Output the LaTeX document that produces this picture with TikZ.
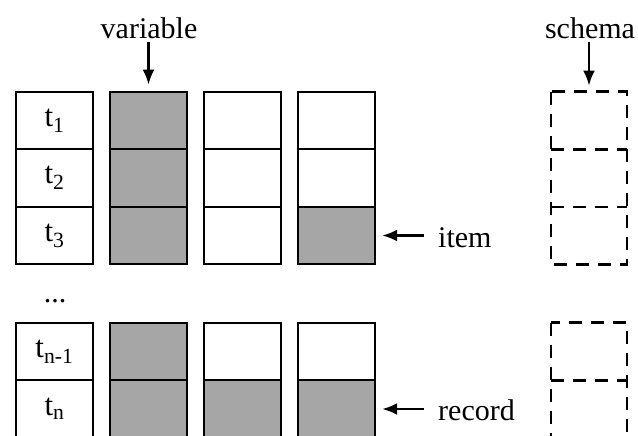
\documentclass[tikz,border=0pt]{standalone}
\usepackage{fontspec}
\setmainfont{Liberation Serif}
\usetikzlibrary{arrows.meta}
\begin{document}
\begin{tikzpicture}[x=1pt,y=-1pt,
  cell/.style={draw,line width=2.3pt,minimum width=77pt,minimum height=57.5pt,inner sep=0pt,font=\fontsize{31}{36}\selectfont},
  shaded/.style={cell,fill=gray!70},
  slot/.style={minimum width=76pt,minimum height=57.5pt,inner sep=0pt},
  dashline/.style={line width=2.3pt,dash pattern=on 13pt off 9pt},
  lbl/.style={font=\fontsize{30}{35}\selectfont,inner sep=2pt},
  arr/.style={-{Latex[length=15pt,width=12pt]},line width=2.3pt}]
\useasboundingbox (0,0) rectangle (638,436);
% column 1
\node[cell] (a1) at (54.5,120.5) {t\textsubscript{1}};
\node[cell] (a2) at (54.5,178) {t\textsubscript{2}};
\node[cell] (a3) at (54.5,235.5) {t\textsubscript{3}};
\node[cell] (a4) at (54.5,351.5) {t\textsubscript{n-1}};
\node[cell] (a5) at (54.5,409) {t\textsubscript{n}};
% column 2
\node[shaded] (b1) at (148.5,120.5) {};
\node[shaded] (b2) at (148.5,178) {};
\node[shaded] (b3) at (148.5,235.5) {};
\node[shaded] (b4) at (148.5,351.5) {};
\node[shaded] (b5) at (148.5,409) {};
% column 3
\node[cell] (c1) at (242.5,120.5) {};
\node[cell] (c2) at (242.5,178) {};
\node[cell] (c3) at (242.5,235.5) {};
\node[cell] (c4) at (242.5,351.5) {};
\node[shaded] (c5) at (242.5,409) {};
% column 4
\node[cell] (d1) at (336.5,120.5) {};
\node[cell] (d2) at (336.5,178) {};
\node[shaded] (d3) at (336.5,235.5) {};
\node[cell] (d4) at (336.5,351.5) {};
\node[shaded] (d5) at (336.5,409) {};
% schema
\node[slot] (s1) at (589,120.5) {};
\node[slot] (s2) at (589,178) {};
\node[slot] (s3) at (589,235.5) {};
\node[slot] (s4) at (589,351.5) {};
\node[slot] (s5) at (589,409) {};
\draw[dashline] (s1.north west) rectangle (s3.south east);
\draw[dashline] (s1.south west) -- (s1.south east);
\draw[dashline] (s2.south west) -- (s2.south east);
\draw[dashline] (s4.north west) rectangle (s5.south east);
\draw[dashline] (s4.south west) -- (s4.south east);
% labels
\node[lbl] (var) at (149,28) {variable};
\node[lbl] (sch) at (590,28) {schema};
\node[lbl,anchor=west] (item) at (436,238) {item};
\node[lbl,anchor=west] (rec) at (436,410) {record};
\node[lbl] (dots) at (55,301) {...};
% arrows
\draw[arr,shorten >=6pt,shorten <=1pt] (var.south -| b1.north) -- (b1.north);
\draw[arr,shorten >=6pt,shorten <=1pt] (sch.south -| s1.north) -- (s1.north);
\draw[arr,shorten >=6pt,shorten <=12pt] (item.west |- d3.east) -- (d3.east);
\draw[arr,shorten >=6pt,shorten <=12pt] (rec.west |- d5.east) -- (d5.east);
\end{tikzpicture}
\end{document}
